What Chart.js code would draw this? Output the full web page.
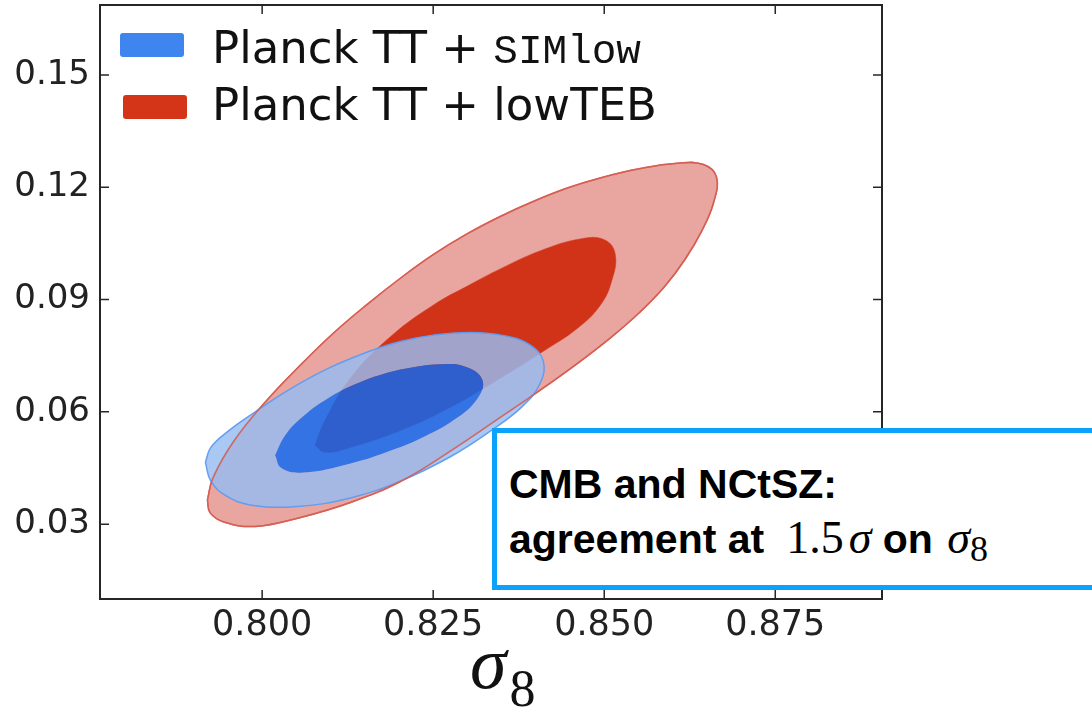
<!DOCTYPE html>
<html>
<head>
<meta charset="utf-8">
<script src="https://cdn.jsdelivr.net/npm/chart.js@4.4.0/dist/chart.umd.min.js"></script>
<style>
  html, body { margin: 0; padding: 0; background: #fff; overflow: hidden; }
  #wrap { position: relative; width: 1092px; height: 717px; }
  #note {
    position: absolute; left: 492px; top: 428px; width: 640px; height: 152px;
    border: 5px solid #0aa2fa; background: #fff; color: #000;
    font-family: "Liberation Sans", Arial, sans-serif; font-weight: bold; font-size: 41px;
  }
  #note div { position: absolute; left: 12px; line-height: 40px; white-space: nowrap; }
  #note .m { font-family: "Liberation Serif", serif; font-weight: normal; font-size: 46px; }
  #note .i { font-style: italic; }
  #note .sub { font-family: "Liberation Serif", serif; font-weight: normal; font-size: 36px; position: relative; top: 8px; }
</style>
</head>
<body>
<div id="wrap">
  <canvas id="chart" width="1092" height="717"></canvas>
  <div id="note">
    <div style="top:31px">CMB and NCtSZ:</div>
    <div style="top:85px">agreement at<span class="m" style="margin-left:22px">1.5</span><span class="m i" style="margin-left:5px">σ</span> on <span class="m i" style="margin-left:3px">σ</span><span class="sub">8</span></div>
  </div>
</div>
<script>
// axis ranges and ticks
const xRange = [0.7763, 0.8906];
const yRange = [0.0100, 0.1687];
const xTicks = [0.800, 0.825, 0.850, 0.875];
const yTicks = [0.03, 0.06, 0.09, 0.12, 0.15];

// contour outlines, [sigma8, y]
const redOuter = [
  [0.7920,0.0364],[0.7928,0.0423],[0.7958,0.0520],[0.8004,0.0625],[0.8056,0.0725],[0.8104,0.0810],
  [0.8154,0.0888],[0.8202,0.0957],[0.8250,0.1020],[0.8300,0.1076],[0.8348,0.1122],[0.8396,0.1162],
  [0.8446,0.1198],[0.8494,0.1225],[0.8553,0.1250],[0.8607,0.1264],[0.8645,0.1261],[0.8664,0.1228],
  [0.8660,0.1160],[0.8643,0.1085],[0.8618,0.1007],[0.8588,0.0934],[0.8552,0.0866],[0.8510,0.0799],
  [0.8462,0.0731],[0.8408,0.0660],[0.8348,0.0585],[0.8275,0.0495],[0.8202,0.0414],[0.8129,0.0358],
  [0.8056,0.0318],[0.7990,0.0294],[0.7945,0.0305],[0.7924,0.0330]
];
const redInner = [
  [0.8077,0.0511],[0.8092,0.0578],[0.8129,0.0690],[0.8187,0.0800],[0.8250,0.0885],[0.8304,0.0940],
  [0.8348,0.0982],[0.8406,0.1030],[0.8465,0.1062],[0.8500,0.1060],[0.8516,0.1022],[0.8511,0.0950],
  [0.8494,0.0884],[0.8460,0.0822],[0.8411,0.0762],[0.8348,0.0690],[0.8275,0.0612],[0.8202,0.0550],
  [0.8129,0.0505],[0.8092,0.0492]
];
const blueOuter = [
  [0.7917,0.0465],[0.7925,0.0505],[0.7950,0.0548],[0.7990,0.0600],[0.8040,0.0660],[0.8095,0.0715],
  [0.8154,0.0760],[0.8202,0.0788],[0.8250,0.0805],[0.8304,0.0812],[0.8355,0.0803],[0.8392,0.0778],
  [0.8411,0.0735],[0.8406,0.0675],[0.8380,0.0614],[0.8333,0.0548],[0.8275,0.0480],[0.8202,0.0415],
  [0.8129,0.0370],[0.8056,0.0348],[0.7987,0.0350],[0.7948,0.0375],[0.7925,0.0415]
];
const blueInner = [
  [0.8019,0.0484],[0.8034,0.0538],[0.8060,0.0588],[0.8097,0.0637],[0.8135,0.0673],[0.8175,0.0700],
  [0.8215,0.0717],[0.8260,0.0727],[0.8298,0.0720],[0.8322,0.0685],[0.8314,0.0634],[0.8280,0.0578],
  [0.8238,0.0535],[0.8190,0.0498],[0.8129,0.0462],[0.8060,0.0438],[0.8028,0.0450]
];

const legendItems = [
  { text: 'Planck TT + ', mono: 'SIMlow', color: '#3e85f0' },
  { text: 'Planck TT + lowTEB', mono: '', color: '#d43519' }
];

function loop(pts) {
  return pts.concat([pts[0]]).map(p => ({ x: p[0], y: p[1] }));
}

function contour(label, pts, fillColor, lineColor, width, order, fill) {
  return {
    label: label, data: loop(pts), showLine: true,
    fill: fill ? 'shape' : false,
    backgroundColor: fillColor, borderColor: lineColor, borderWidth: width,
    pointRadius: 0, pointHoverRadius: 0, tension: 0.42, order: order
  };
}

// outer blue band is a ring: cut the inner region out of it
const holePlugin = {
  id: 'hole',
  afterDatasetDraw(chart, args) {
    const label = chart.data.datasets[args.index].label;
    const ctx = chart.ctx;
    if (label === 'lowTEB 68%') {
      const idx = chart.data.datasets.findIndex(d => d.label === 'SIMlow 68%');
      const inner = chart.getDatasetMeta(idx).dataset;
      inner.updateControlPoints(chart.chartArea, 'x');
      ctx.save();
      ctx.beginPath();
      ctx.rect(0, 0, chart.width, chart.height);
      inner.path(ctx);
      ctx.clip('evenodd');
    } else if (label === 'SIMlow 95%') {
      ctx.restore();
    }
  }
};

const framePlugin = {
  id: 'frame',
  afterDatasetsDraw(chart) {
    const { ctx, chartArea: a, scales: { x, y } } = chart;
    ctx.save();
    ctx.strokeStyle = '#262626';
    ctx.lineWidth = 2;
    ctx.strokeRect(a.left, a.top, a.width, a.height);
    ctx.lineWidth = 1.5;
    ctx.beginPath();
    x.ticks.forEach(t => {
      const px = x.getPixelForValue(t.value);
      ctx.moveTo(px, a.bottom); ctx.lineTo(px, a.bottom - 9);
      ctx.moveTo(px, a.top); ctx.lineTo(px, a.top + 9);
    });
    y.ticks.forEach(t => {
      const py = y.getPixelForValue(t.value);
      ctx.moveTo(a.left, py); ctx.lineTo(a.left + 9, py);
      ctx.moveTo(a.right, py); ctx.lineTo(a.right - 9, py);
    });
    ctx.stroke();
    ctx.restore();
  },
  afterDraw(chart) {
    const { ctx, chartArea: a } = chart;
    ctx.save();
    // legend
    legendItems.forEach((item, i) => {
      const top = a.top + 28 + i * 62;
      ctx.fillStyle = item.color;
      ctx.beginPath();
      ctx.roundRect(a.left + 20 + i * 3, top, 64, 24, 3);
      ctx.fill();
      ctx.fillStyle = '#111';
      ctx.textBaseline = 'alphabetic';
      ctx.textAlign = 'left';
      ctx.font = '45px "DejaVu Sans"';
      const base = a.top + 58 + i * 57;
      ctx.fillText(item.text, a.left + 112, base);
      if (item.mono) {
        const w = ctx.measureText(item.text).width;
        ctx.font = '41px "Liberation Mono"';
        ctx.fillText(item.mono, a.left + 112 + w, base);
      }
    });
    // x axis title
    ctx.fillStyle = '#111';
    ctx.font = 'italic 74px "Liberation Serif"';
    const cx = (a.left + a.right) / 2;
    ctx.fillText('σ', cx - 21, 688);
    const sw = ctx.measureText('σ').width;
    ctx.font = '52px "Liberation Serif"';
    ctx.fillText('8', cx - 21 + sw + 3, 706);
    ctx.restore();
  }
};

Chart.defaults.font.family = '"DejaVu Sans"';

new Chart(document.getElementById('chart'), {
  type: 'scatter',
  data: {
    datasets: [
      contour('SIMlow 68%', blueInner, 'rgba(14,105,242,0.83)', 'rgba(14,105,242,0.83)', 0, 1, true),
      contour('lowTEB edge', redOuter, 'transparent', 'rgba(214,92,80,0.85)', 1.5, 2, false),
      contour('SIMlow 95%', blueOuter, 'rgba(150,188,242,0.82)', 'rgba(95,155,240,0.95)', 1.5, 3, true),
      contour('lowTEB 68%', redInner, '#d13318', '#d13318', 0.5, 4, true),
      contour('lowTEB 95%', redOuter, '#e9a6a0', '#dc6a5e', 1.5, 5, true)
    ]
  },
  options: {
    responsive: false,
    animation: false,
    layout: { padding: { top: 5, right: 210, left: 0, bottom: 0 } },
    plugins: { legend: { display: false }, tooltip: { enabled: false } },
    scales: {
      x: {
        type: 'linear', min: xRange[0], max: xRange[1],
        afterBuildTicks: s => { s.ticks = xTicks.map(v => ({ value: v })); },
        afterFit: s => { s.height = 118; s.paddingLeft = 0; s.paddingRight = 0; },
        grid: { display: false, drawTicks: false },
        border: { display: false },
        ticks: { padding: 6, color: '#222', font: { size: 35 }, callback: v => v.toFixed(3) }
      },
      y: {
        type: 'linear', min: yRange[0], max: yRange[1],
        afterBuildTicks: s => { s.ticks = yTicks.map(v => ({ value: v })); },
        afterFit: s => { s.width = 100; s.paddingTop = 0; s.paddingBottom = 0; },
        grid: { display: false, drawTicks: false },
        border: { display: false },
        ticks: { padding: 10, color: '#222', font: { size: 34 }, callback: v => v.toFixed(2) }
      }
    }
  },
  plugins: [holePlugin, framePlugin]
});
</script>
</body>
</html>
